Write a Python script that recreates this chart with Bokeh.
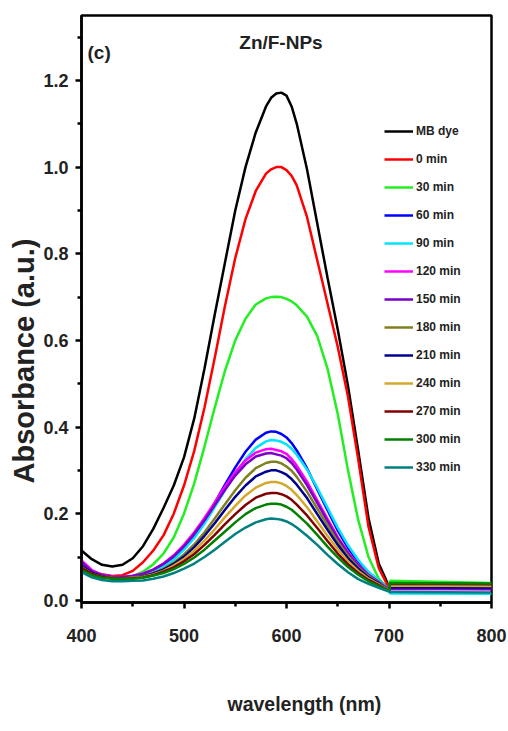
import math
from bokeh.plotting import figure
from bokeh.models import (Range1d, Legend, LegendItem, Label, FixedTicker, PrintfTickFormatter, Title)
from bokeh.embed import file_html
from bokeh.resources import INLINE

# ---------------- data ----------------
wavelength = [400, 410, 420, 430, 440, 450, 460, 470, 480, 490, 500, 510, 520, 530, 540,
              550, 560, 570, 580, 585, 590, 595, 600, 605, 610, 620, 630, 640, 650, 660,
              670, 680, 690, 700, 701, 800]

mb_dye = [0.115, 0.095, 0.082, 0.078, 0.082, 0.097, 0.125, 0.165, 0.213, 0.265, 0.330, 0.420, 0.535, 0.660, 0.780,
          0.900, 1.000, 1.080, 1.140, 1.160, 1.170, 1.172, 1.165, 1.140, 1.100, 0.995, 0.870, 0.745, 0.625, 0.495,
          0.345, 0.190, 0.085, 0.032, 0.038, 0.036]
min_0 = [0.082, 0.068, 0.060, 0.056, 0.058, 0.068, 0.088, 0.115, 0.150, 0.200, 0.265, 0.345, 0.445, 0.560, 0.680,
         0.790, 0.880, 0.945, 0.985, 0.995, 1.000, 1.000, 0.993, 0.980, 0.958, 0.885, 0.785, 0.685, 0.585, 0.470,
         0.325, 0.170, 0.075, 0.028, 0.036, 0.034]
min_30 = [0.075, 0.063, 0.055, 0.051, 0.051, 0.056, 0.066, 0.083, 0.108, 0.145, 0.200, 0.270, 0.355, 0.445, 0.530,
          0.600, 0.650, 0.683, 0.697, 0.700, 0.701, 0.700, 0.696, 0.690, 0.681, 0.655, 0.610, 0.535, 0.430, 0.300,
          0.185, 0.100, 0.050, 0.025, 0.045, 0.040]
min_60 = [0.085, 0.066, 0.057, 0.053, 0.052, 0.055, 0.060, 0.068, 0.080, 0.097, 0.121, 0.150, 0.185, 0.225, 0.267,
          0.307, 0.343, 0.371, 0.387, 0.390, 0.389, 0.384, 0.376, 0.363, 0.346, 0.305, 0.256, 0.208, 0.161, 0.121,
          0.089, 0.064, 0.045, 0.026, 0.030, 0.029]
min_90 = [0.080, 0.064, 0.056, 0.052, 0.052, 0.054, 0.058, 0.066, 0.078, 0.094, 0.117, 0.144, 0.177, 0.215, 0.254,
          0.292, 0.326, 0.352, 0.367, 0.370, 0.369, 0.366, 0.360, 0.350, 0.336, 0.302, 0.260, 0.214, 0.168, 0.127,
          0.093, 0.066, 0.046, 0.025, 0.016, 0.015]
min_120 = [0.092, 0.070, 0.059, 0.055, 0.054, 0.057, 0.062, 0.071, 0.085, 0.104, 0.128, 0.157, 0.190, 0.226, 0.263,
           0.296, 0.323, 0.341, 0.349, 0.350, 0.347, 0.344, 0.338, 0.326, 0.311, 0.274, 0.231, 0.188, 0.146, 0.111,
           0.082, 0.059, 0.042, 0.025, 0.026, 0.025]
min_150 = [0.088, 0.067, 0.058, 0.054, 0.054, 0.056, 0.061, 0.071, 0.084, 0.102, 0.125, 0.153, 0.185, 0.220, 0.255,
           0.288, 0.314, 0.332, 0.339, 0.340, 0.337, 0.334, 0.328, 0.317, 0.302, 0.266, 0.225, 0.183, 0.143, 0.108,
           0.080, 0.058, 0.042, 0.024, 0.028, 0.027]
min_180 = [0.080, 0.064, 0.055, 0.052, 0.051, 0.053, 0.056, 0.063, 0.073, 0.087, 0.106, 0.129, 0.157, 0.189, 0.222,
           0.254, 0.283, 0.305, 0.317, 0.320, 0.320, 0.316, 0.309, 0.299, 0.285, 0.251, 0.212, 0.173, 0.135, 0.103,
           0.076, 0.056, 0.040, 0.024, 0.032, 0.031]
min_210 = [0.080, 0.064, 0.055, 0.051, 0.051, 0.052, 0.055, 0.062, 0.071, 0.084, 0.101, 0.123, 0.149, 0.178, 0.209,
           0.239, 0.265, 0.286, 0.297, 0.300, 0.300, 0.296, 0.290, 0.280, 0.267, 0.236, 0.199, 0.163, 0.128, 0.097,
           0.073, 0.053, 0.039, 0.023, 0.030, 0.029]
min_240 = [0.076, 0.061, 0.054, 0.051, 0.050, 0.052, 0.054, 0.060, 0.068, 0.080, 0.095, 0.115, 0.138, 0.164, 0.192,
           0.218, 0.242, 0.260, 0.271, 0.273, 0.273, 0.270, 0.264, 0.255, 0.243, 0.215, 0.182, 0.149, 0.118, 0.090,
           0.068, 0.050, 0.037, 0.023, 0.034, 0.033]
min_270 = [0.075, 0.061, 0.054, 0.051, 0.050, 0.051, 0.053, 0.058, 0.066, 0.076, 0.090, 0.107, 0.128, 0.151, 0.176,
           0.199, 0.220, 0.237, 0.246, 0.248, 0.248, 0.245, 0.240, 0.232, 0.221, 0.196, 0.167, 0.137, 0.108, 0.083,
           0.063, 0.047, 0.035, 0.022, 0.038, 0.037]
min_300 = [0.070, 0.058, 0.052, 0.050, 0.049, 0.050, 0.052, 0.057, 0.063, 0.072, 0.084, 0.099, 0.117, 0.138, 0.159,
           0.180, 0.199, 0.213, 0.221, 0.223, 0.223, 0.221, 0.216, 0.209, 0.199, 0.177, 0.151, 0.124, 0.099, 0.077,
           0.059, 0.044, 0.033, 0.022, 0.040, 0.039]
min_330 = [0.065, 0.053, 0.047, 0.044, 0.044, 0.045, 0.046, 0.050, 0.055, 0.063, 0.073, 0.085, 0.100, 0.117, 0.135,
           0.153, 0.168, 0.180, 0.187, 0.189, 0.188, 0.186, 0.182, 0.176, 0.168, 0.149, 0.128, 0.105, 0.084, 0.065,
           0.049, 0.038, 0.029, 0.020, 0.019, 0.018]

series_labels = ["MB dye", "0 min", "30 min", "60 min", "90 min", "120 min", "150 min",
                 "180 min", "210 min", "240 min", "270 min", "300 min", "330 min"]
series_values = [mb_dye, min_0, min_30, min_60, min_90, min_120, min_150,
                 min_180, min_210, min_240, min_270, min_300, min_330]
series_colors = ["#000000", "#ff0000", "#22ee22", "#0000ff", "#00e5ff", "#ff00ff", "#7a00c8",
                 "#808020", "#000090", "#d4a82a", "#800000", "#008000", "#008080"]

x_ticks = [400, 500, 600, 700, 800]
x_minor = [450, 550, 650, 750]
y_ticks = [0.0, 0.2, 0.4, 0.6, 0.8, 1.0, 1.2]
y_minor = [0.1, 0.3, 0.5, 0.7, 0.9, 1.1, 1.3]

title_text = "Zn/F-NPs"
panel_text = "(c)"
x_label = "wavelength (nm)"
y_label = "Absorbance (a.u.)"

FONT = "Liberation Sans"
TXT = "#222222"

# ---------------- figure ----------------
p = figure(width=508, height=731, x_range=Range1d(400, 800), y_range=Range1d(-0.005, 1.35),
           output_backend="svg", toolbar_location=None,
           min_border_left=81, min_border_right=17, min_border_top=15, min_border_bottom=129)
p.background_fill_color = "white"
p.border_fill_color = "white"
p.grid.visible = False
p.outline_line_color = "black"
p.outline_line_width = 2.5

items = []
for lab, ys, col in zip(series_labels, series_values, series_colors):
    r = p.line(wavelength, ys, line_color=col, line_width=2.5)
    items.append(LegendItem(label=lab, renderers=[r]))

legend = Legend(items=items, location=(303, 125), glyph_width=29, glyph_height=20,
                label_height=20, spacing=8, padding=0, margin=0, label_standoff=3,
                border_line_color=None, background_fill_alpha=0,
                label_text_font=FONT, label_text_font_size="12px",
                label_text_font_style="bold", label_text_color=TXT)
p.add_layout(legend)

for ax in (p.xaxis[0], p.yaxis[0]):
    ax.axis_line_width = 2.5
    ax.major_tick_line_width = 2.5
    ax.minor_tick_line_width = 2.5
    ax.major_tick_out = 6
    ax.major_tick_in = 0
    ax.minor_tick_out = 4
    ax.minor_tick_in = 0
    ax.major_label_text_font = FONT
    ax.major_label_text_font_style = "bold"
    ax.major_label_text_font_size = "18px"
    ax.major_label_text_color = TXT

p.xaxis.ticker = FixedTicker(ticks=x_ticks, minor_ticks=x_minor)
p.yaxis.ticker = FixedTicker(ticks=y_ticks, minor_ticks=y_minor)
p.yaxis.formatter = PrintfTickFormatter(format="%.1f")
p.xaxis.major_label_standoff = 20
p.yaxis.major_label_standoff = 7

x_title = Title(text=x_label, align="left", offset=146, standoff=0, vertical_align="top",
                text_font=FONT, text_font_style="bold", text_font_size="19.5px", text_color=TXT)
try:
    x_title.padding = (0, 48, 48, 0)
except Exception:
    pass
p.add_layout(x_title, "below")
p.add_layout(Title(text=y_label, align="left", offset=119, standoff=0, vertical_align="middle",
                   text_font=FONT, text_font_style="bold", text_font_size="29px",
                   text_color=TXT), "left")

p.add_layout(Label(x=594.6, y=1.288, text=title_text, text_align="center", text_baseline="middle",
                   text_font=FONT, text_font_style="bold", text_font_size="19px", text_color=TXT))
p.add_layout(Label(x=405.9, y=1.265, text=panel_text, text_align="left", text_baseline="middle",
                   text_font=FONT, text_font_style="bold", text_font_size="19px", text_color=TXT))

open("out.html", "w").write(file_html(p, INLINE))
